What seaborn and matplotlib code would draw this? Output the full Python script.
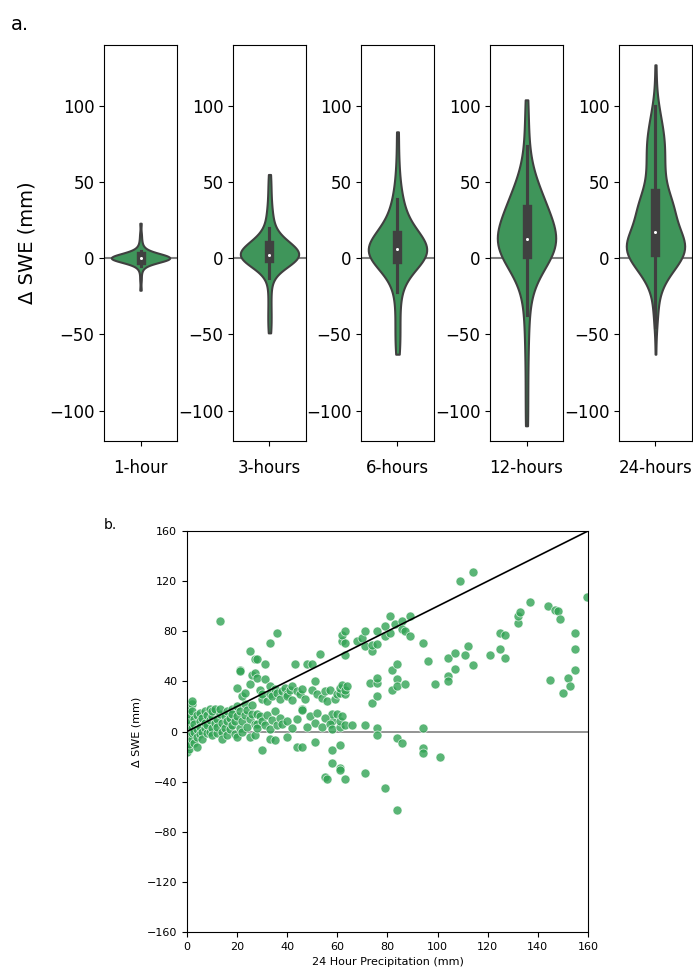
import matplotlib
matplotlib.use("Agg")
import matplotlib.pyplot as plt
import pandas as pd
import seaborn as sns

# Accumulation windows shown in panel a
durations = ["1-hour", "3-hours", "6-hours", "12-hours", "24-hours"]

# Change in SWE (mm) per window
dswe_1h = [-21, -14, -9, -6, -5, -4, -3, -3, -2, -2, -2, -1.5, -1.5, -1, -1, -1,
           -1, -1, -0.5, -0.5, -0.5, -0.5, 0, 0, 0, 0, 0, 0, 0, 0, 0, 0, 0, 0,
           0.5, 0.5, 0.5, 0.5, 0.5, 1, 1, 1, 1, 1, 1.5, 1.5, 1.5, 2, 2, 2, 2.5,
           2.5, 3, 3, 4, 4, 5, 6, 7, 9, 12, 16, 23]

dswe_3h = [-49, -42, -36, -28, -20, -13, -9, -6, -4, -3, -2, -2, -1, -1, -1, -1,
           0, 0, 0, 0, 0, 0, 0.5, 0.5, 1, 1, 1, 1, 1.5, 1.5, 2, 2, 2, 2, 2.5, 2.5,
           3, 3, 3, 4, 4, 4, 5, 5, 6, 6, 7, 7, 8, 8, 9, 9, 10, 10, 11, 11, 12, 13,
           15, 17, 20, 23, 26, 29, 33, 40, 47, 55]

dswe_6h = [-63, -56, -48, -40, -31, -22, -18, -14, -10, -7, -5, -4, -3, -2,
           -1, -1, 0, 0, 0, 1, 1, 2, 2, 3, 3, 3, 4, 4, 5, 5, 5, 6, 6, 6, 7, 7, 8,
           8, 9, 9, 10, 11, 12, 12, 13, 14, 15, 16, 17, 18, 19, 21, 23, 25, 27,
           30, 33, 36, 39, 44, 52, 64, 83]

dswe_12h = [-110, -88, -66, -50, -37, -28, -20, -14, -9, -6, -4, -2, -1, 0,
            1, 2, 3, 3, 4, 5, 5, 6, 7, 7, 8, 9, 9, 10, 10, 11, 11, 12, 12, 12, 13,
            14, 15, 16, 17, 18, 19, 20, 21, 22, 24, 25, 27, 29, 30, 31, 32, 33,
            34, 35, 36, 38, 39, 41, 42, 44, 46, 48, 51, 57, 64, 74, 88, 104]

# 24-hour events: precipitation (mm) and matching change in SWE (mm)
precip_24h = [
    0, 0, 0, 0, 0, 0, 0, 0.5, 1, 1, 1, 1, 1, 1, 1, 2, 2, 2, 2, 2, 2, 3, 3, 3, 3,
    4, 4, 4, 4, 5, 5, 5, 5, 6, 6, 6, 7, 7, 7, 8, 8, 8, 9, 9, 9, 10, 10, 10, 10,
    11, 11, 12, 12, 12, 13, 13, 14, 14, 14, 15, 15, 16, 16, 16, 17, 17, 18, 18,
    18, 19, 19, 20, 20, 20, 21, 21, 22, 22, 23, 23, 24, 24, 25, 25, 26, 26, 27, 27,
    13, 20, 21, 21, 22, 23, 25, 25, 26, 27, 27, 28, 28, 28, 28, 29, 30, 30, 31, 31,
    32, 33, 33, 33, 34, 35, 36, 36, 37, 38, 39, 40, 40, 41, 42, 42, 43, 44, 45, 46,
    46, 47, 48, 50, 50, 51, 52, 53, 54, 55, 56, 57, 58, 58, 59, 60,
    28, 29, 30, 31, 32, 33, 34, 35, 36, 37, 38, 40, 42, 44, 46, 48, 49, 51, 52, 54,
    55, 57, 58, 60, 61, 61, 62, 63, 66, 71, 76, 94,
    30, 33, 35, 40, 44, 46, 51, 55, 56, 58, 58, 61, 61, 61, 63, 71, 76, 79, 84, 84,
    86, 94, 94, 101,
    61, 61, 62, 63, 63, 64, 62, 62, 63, 63, 63, 68, 70, 71, 71, 74, 74, 76, 76, 79,
    79, 81, 81, 83, 86, 86, 87, 89, 89, 73, 74, 76, 76, 76, 82, 82, 84, 84, 84, 87,
    94, 96, 99, 104, 104, 104, 107, 107, 111, 112, 114, 109, 114, 121, 125, 125,
    127, 127, 132, 132, 133, 137, 144, 145, 147, 148, 149, 150, 152, 153, 155, 155,
    155, 159.5,
]
dswe_24h = [
    -16, -12, -8, -4, 0, 3, 7, 12, -14, -10, -3, 5, 9, 14, 18, 22, 24, 16, -6, -1,
    3, 10, -9, 0, 6, -12, 13, 2, -4, 8, -2, 15, 4, 0, 11, -6, 3, 16, 7, -1, 13, 5,
    18, 0, 9, 3, 12, -3, 16, 7, 18, -1, 10, 4, 14, 18, 0, 7, -6, 12, 3, 16, -3, 8,
    2, 11, 18, 5, 14, -2, 8, 12, 20, -4, 3, 16, 8, 0, 13, 22, 4, 17, -4, 10, 14, 21,
    6, -3,
    88, 35, 49, 48, 28, 31, 38, 64, 45, 47, 58, 58, 14, 6, 43, 33, 26, 30, 54, 42,
    24, 71, 36, 30, 28, 34, 79, 31, 26, 32, 35, 30, 28, 33, 36, 25, 54, 32, 30, 34,
    18, 26, 54, 54, 33, 40, 30, 62, 27, 32, 24, 33, 8, 14, 26, 30,
    3, 12, 8, 5, 13, 2, 9, 16, 5, 11, 6, 8, 3, 10, 17, 4, 12, 7, 15, 4, 11, 6, 2,
    14, 4, 8, 12, 5, 5, 5, 3, 3,
    -15, -6, -7, -4, -12, -12, -8, -36, -38, -15, -25, -11, -29, -31, -38, -33,
    -3, -45, -5, -63, -9, -13, -17, -20,
    31, 35, 37, 30, 33, 36, 72, 77, 80, 71, 61, 72, 75, 80, 68, 64, 69, 80, 70, 84,
    76, 92, 79, 86, 88, 82, 80, 92, 76, 39, 23, 28, 39, 43, 33, 49, 54, 42, 36, 38,
    71, 56, 38, 59, 44, 40, 63, 50, 61, 68, 53, 120, 127, 61, 79, 66, 77, 59, 87,
    92, 95, 103, 100, 41, 97, 96, 90, 31, 43, 36, 79, 66, 49, 107,
]

green = "#31a354"

fig = plt.figure(figsize=(6.93, 9.74), dpi=100)

# Panel a: one violin per accumulation window
series = [dswe_1h, dswe_3h, dswe_6h, dswe_12h, dswe_24h]
lefts = [0.1501, 0.3362, 0.5209, 0.7071, 0.8932]
for i, (label, vals, left) in enumerate(zip(durations, series, lefts)):
    ax = fig.add_axes([left, 0.5472, 0.1053, 0.4066])
    ax.axhline(0, color="grey", lw=1.5, zorder=0)
    df = pd.DataFrame({"duration": [label] * len(vals), "dswe": vals})
    sns.violinplot(data=df, x="duration", y="dswe", color=green, cut=0,
                   linewidth=1.5, inner_kws={"marker": "o"}, ax=ax)
    # keep the median dot small and white
    for line in ax.lines:
        if line.get_marker() == "o":
            line.set_markersize(2.2)
            line.set_markeredgewidth(0)
            line.set_color("white")
    ax.set_ylim(-120, 140)
    ax.set_yticks([-100, -50, 0, 50, 100])
    ax.set_xlabel("")
    ax.set_ylabel("")
    ax.tick_params(labelsize=12)
    for lab in ax.get_xticklabels():
        lab.set_y(-0.02)
    if i == 0:
        ax.set_ylabel("Δ SWE (mm)", fontsize=14, labelpad=9)

fig.text(0.015, 0.985, "a.", fontsize=14, va="top", ha="left")

# Panel b: 24-hour precipitation against change in SWE
ax2 = fig.add_axes([0.2698, 0.0431, 0.5786, 0.4117])
ax2.axhline(0, color="grey", lw=1.2, zorder=0.5)
sns.scatterplot(x=precip_24h, y=dswe_24h, color=green, alpha=0.8, s=42,
                edgecolor="white", linewidth=0.5, ax=ax2, zorder=2)
ax2.axline((0, 0), slope=1, color="black", lw=1.2, zorder=3)
ax2.set_xlim(0, 160)
ax2.set_ylim(-160, 160)
ax2.set_xticks(range(0, 161, 20))
ax2.set_yticks(range(-160, 161, 40))
ax2.tick_params(labelsize=8)
ax2.set_xlabel("24 Hour Precipitation (mm)", fontsize=8)
ax2.set_ylabel("Δ SWE (mm)", fontsize=8)

fig.text(0.15, 0.468, "b.", fontsize=10, va="top", ha="left")

fig.savefig("out.png", dpi=100)
